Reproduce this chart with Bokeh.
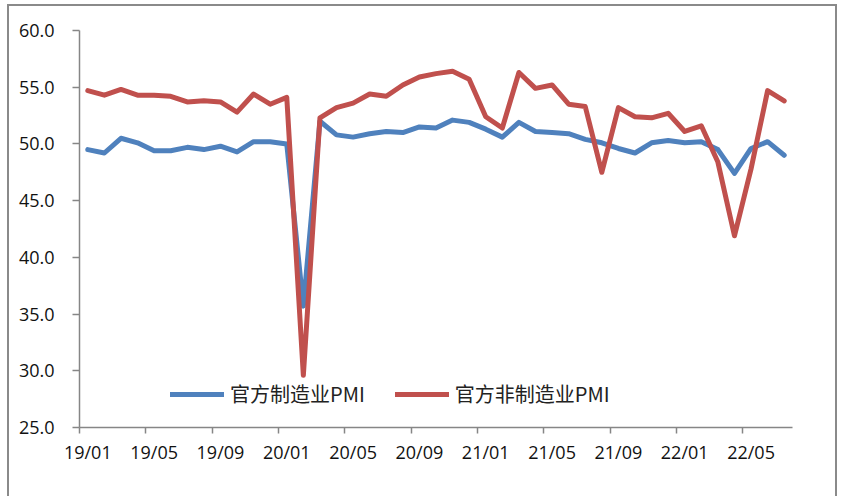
from bokeh.plotting import figure
from bokeh.models import Range1d, FixedTicker, Legend, LegendItem, NumeralTickFormatter
from bokeh.embed import file_html
from bokeh.resources import INLINE

months = ["19/01","19/02","19/03","19/04","19/05","19/06","19/07","19/08","19/09","19/10","19/11","19/12",
          "20/01","20/02","20/03","20/04","20/05","20/06","20/07","20/08","20/09","20/10","20/11","20/12",
          "21/01","21/02","21/03","21/04","21/05","21/06","21/07","21/08","21/09","21/10","21/11","21/12",
          "22/01","22/02","22/03","22/04","22/05","22/06","22/07"]
mfg_pmi = [49.5,49.2,50.5,50.1,49.4,49.4,49.7,49.5,49.8,49.3,50.2,50.2,
           50.0,35.7,52.0,50.8,50.6,50.9,51.1,51.0,51.5,51.4,52.1,51.9,
           51.3,50.6,51.9,51.1,51.0,50.9,50.4,50.1,49.6,49.2,50.1,50.3,
           50.1,50.2,49.5,47.4,49.6,50.2,49.0]
nonmfg_pmi = [54.7,54.3,54.8,54.3,54.3,54.2,53.7,53.8,53.7,52.8,54.4,53.5,
              54.1,29.6,52.3,53.2,53.6,54.4,54.2,55.2,55.9,56.2,56.4,55.7,
              52.4,51.4,56.3,54.9,55.2,53.5,53.3,47.5,53.2,52.4,52.3,52.7,
              51.1,51.6,48.4,41.9,47.8,54.7,53.8]
series_names = ["官方制造业PMI", "官方非制造业PMI"]
tick_labels = ["19/01","19/05","19/09","20/01","20/05","20/09","21/01","21/05","21/09","22/01","22/05"]
y_ticks = [25, 30, 35, 40, 45, 50, 55, 60]

xs = list(range(len(months)))
label_pos = [months.index(t) for t in tick_labels]
boundaries = [i - 0.5 for i in label_pos]

p = figure(width=830, height=492, output_backend="svg", toolbar_location=None,
           x_range=Range1d(-0.5, len(months) - 0.5), y_range=Range1d(25, 60),
           min_border_left=70, min_border_top=24, min_border_right=47, min_border_bottom=71)
p.styles = {"border-top": "2px solid #8a8a8a", "border-left": "2px solid #8a8a8a",
            "border-right": "2px solid #8a8a8a", "border-bottom": "none",
            "margin-left": "7px", "margin-top": "4px"}
p.outline_line_color = None
p.xgrid.visible = False
p.ygrid.visible = False

axis_color = "#868686"
p.xaxis.ticker = FixedTicker(ticks=label_pos, minor_ticks=boundaries)
p.xaxis.major_label_overrides = {k: v for k, v in zip(label_pos, tick_labels)}
p.xaxis.major_tick_out = 0
p.xaxis.major_tick_in = 0
p.xaxis.minor_tick_out = 6
p.xaxis.minor_tick_in = 0
p.xaxis.minor_tick_line_color = axis_color
p.xaxis.minor_tick_line_width = 1.5
p.xaxis.axis_line_color = axis_color
p.xaxis.axis_line_width = 1.5
p.xaxis.major_label_standoff = 6

p.yaxis.ticker = FixedTicker(ticks=y_ticks)
p.yaxis.formatter = NumeralTickFormatter(format="0.0")
p.yaxis.major_tick_out = 7
p.yaxis.major_tick_in = 0
p.yaxis.minor_tick_line_color = None
p.yaxis.major_tick_line_color = axis_color
p.yaxis.major_tick_line_width = 1.5
p.yaxis.axis_line_color = axis_color
p.yaxis.axis_line_width = 1.5
p.yaxis.major_label_standoff = 18

for ax in (p.xaxis, p.yaxis):
    ax.major_label_text_font = "Open Sans"
    ax.major_label_text_font_size = "18px"
    ax.major_label_text_color = "#111111"

r1 = p.line(xs, mfg_pmi, line_color="#4F81BD", line_width=5, line_cap="round", line_join="round")
r2 = p.line(xs, nonmfg_pmi, line_color="#C0504D", line_width=5, line_cap="round", line_join="round")

legend = Legend(items=[LegendItem(label=series_names[0], renderers=[r1]),
                       LegendItem(label=series_names[1], renderers=[r2])],
                location=(91, 19), orientation="horizontal",
                border_line_color=None, background_fill_alpha=0,
                padding=0, margin=0, spacing=30, label_standoff=6,
                glyph_width=54, glyph_height=20, label_height=20,
                label_text_font="Noto Sans CJK SC", label_text_font_size="20px",
                label_text_color="#222222")
p.add_layout(legend)

open("out.html", "w").write(file_html(p, INLINE))
